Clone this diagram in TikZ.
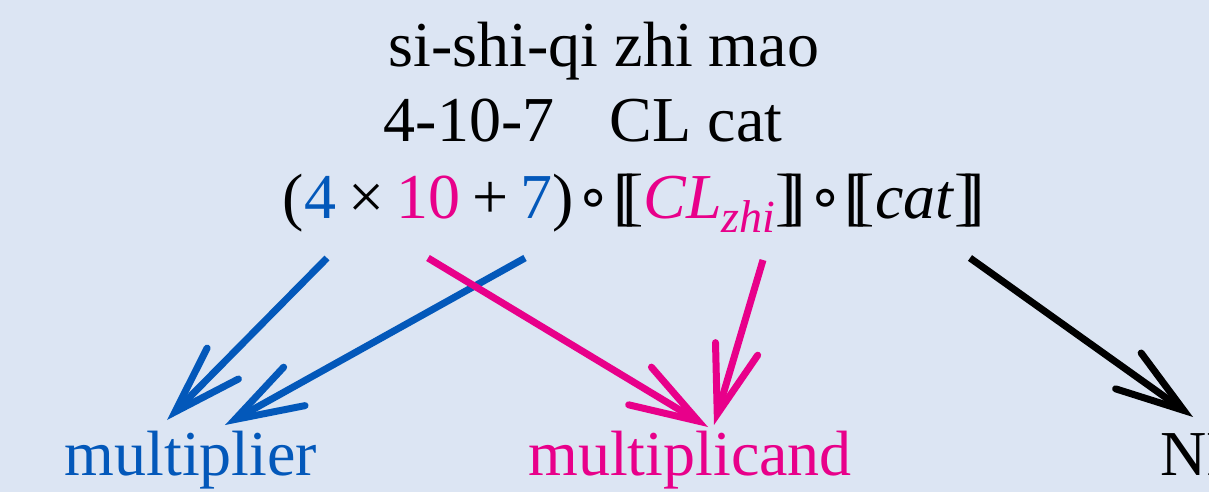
\documentclass[tikz,border=0pt]{standalone}
\usepackage{fontspec}
\setmainfont{Liberation Serif}
\newfontfamily\djv{DejaVu Sans}
\usetikzlibrary{arrows.meta,calc}
\definecolor{bg}{RGB}{220,229,243}
\definecolor{mblue}{RGB}{3,88,186}
\definecolor{mpink}{RGB}{232,0,138}
\newcommand{\lbrk}{[\kern-0.19em[}
\newcommand{\rbrk}{]\kern-0.19em]}
\newcommand{\ocirc}{\hspace{0.02em}{\djv\fontsize{58}{60}\selectfont\raisebox{0.02em}{∘}}\hspace{0.02em}}
\newcommand{\bsp}{\hspace{0.19em}}
\tikzset{
  txt/.style={inner sep=0pt, anchor=base, font=\fontsize{64}{77}\selectfont},
  arr/.style={line width=7pt, -{Straight Barb[length=68pt,width=44pt,line cap=round]}},
}
\begin{document}
\begin{tikzpicture}[x=1pt,y=-1pt]
\fill[bg] (0,0) rectangle (1209,492);
\useasboundingbox (0,0) rectangle (1209,492);
\node[txt] (l1) at (604,67) {si-shi-qi zhi mao};
\node[txt] (l2a) at (469,142) {4-10-7};
\node[txt] (l2b) at (696,142) {CL cat};
\node[txt] (l3) at (634,218) {(\textcolor{mblue}{4}\bsp×\bsp\textcolor{mpink}{10}\bsp+\bsp\textcolor{mblue}{7})\ocirc\lbrk\textcolor{mpink}{\itshape CL\raisebox{-0.22em}{\fontsize{46}{50}\selectfont zhi}}\rbrk\ocirc\lbrk\textit{cat}\rbrk};
\node[txt, text=mblue] (mult) at (191,475) {multiplier};
\node[txt, text=mpink] (mcand) at (690,475) {multiplicand};
\node[txt, anchor=base west] (np) at (1160,475) {NP};
% connector ends
\coordinate (s4) at (327,258);
\coordinate (s7) at (525,258);
\coordinate (s10) at (428,258);
\coordinate (scl) at (763,260);
\coordinate (scat) at (970,258);
\coordinate (e4) at (167,420);
\coordinate (e7) at (225,425);
\coordinate (e10) at (708,427);
\coordinate (ecl) at (714,425);
\coordinate (ecat) at (1193,417);
\draw[arr, mblue] (s4) -- (e4);
\draw[arr, mblue] (s7) -- (e7);
\draw[arr, mpink] (s10) -- (e10);
\draw[arr, mpink] (scl) -- (ecl);
\draw[arr, black] (scat) -- (ecat);
\end{tikzpicture}
\end{document}
